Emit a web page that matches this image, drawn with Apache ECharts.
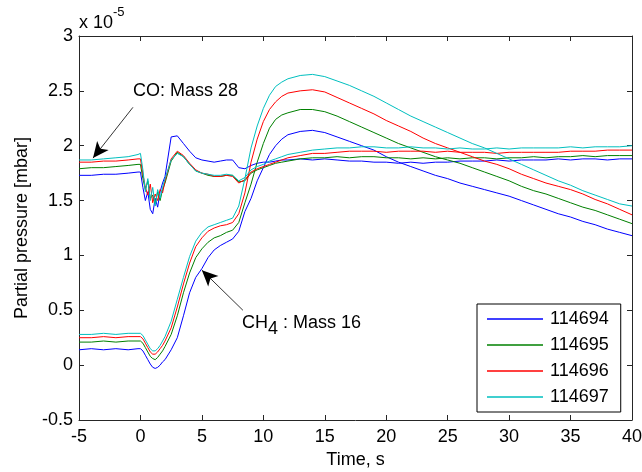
<!DOCTYPE html>
<html>
<head>
<meta charset="utf-8">
<title>Partial pressure</title>
<script src="https://cdn.jsdelivr.net/npm/echarts@6/dist/echarts.min.js"></script>
<style>
  html, body { margin: 0; padding: 0; background: #fff; }
  #chart { width: 642px; height: 472px; }
</style>
</head>
<body>
<div id="chart"></div>
<script>
// time axis, seconds
var t = [-5, -4, -3, -2, -1, -0.2,
    0, 0.2, 0.4, 0.6, 0.8, 1.0, 1.2, 1.4, 1.6, 1.8, 2.0,
    2.5, 3, 3.5, 4, 4.5, 5, 5.5, 6, 6.5, 7, 7.5, 8, 8.5, 9, 9.5, 10, 10.5, 11, 11.5, 12,
    13, 14, 15, 16, 17, 18, 19, 20, 21, 22, 23, 24, 25, 26, 27, 28, 29, 30,
    31, 32, 33, 34, 35, 36, 37, 38, 39, 40];

var runs = ['114694', '114695', '114696', '114697'];
var colors = ['#0000ff', '#008000', '#ff0000', '#00bfbf'];

// CO: Mass 28  (x 1e-5 mbar)
var co114694 = [1.73, 1.73, 1.74, 1.74, 1.75, 1.76,
    1.76, 1.62, 1.50, 1.58, 1.42, 1.38, 1.52, 1.44, 1.58, 1.66, 1.72,
    2.08, 2.09, 2.02, 1.95, 1.89, 1.87, 1.86, 1.85, 1.86, 1.87, 1.87, 1.80, 1.79, 1.82, 1.84, 1.85, 1.85, 1.86, 1.87, 1.87,
    1.88, 1.87, 1.88, 1.87, 1.86, 1.86, 1.85, 1.85, 1.84, 1.85, 1.84, 1.85, 1.85, 1.86, 1.86, 1.86, 1.87, 1.86,
    1.87, 1.87, 1.87, 1.88, 1.87, 1.88, 1.88, 1.87, 1.88, 1.88];
var co114695 = [1.79, 1.80, 1.80, 1.81, 1.82, 1.83,
    1.83, 1.70, 1.60, 1.68, 1.52, 1.55, 1.47, 1.58, 1.50, 1.60, 1.66,
    1.86, 1.94, 1.90, 1.83, 1.77, 1.75, 1.73, 1.72, 1.72, 1.73, 1.73, 1.67, 1.68, 1.75, 1.78, 1.80, 1.82, 1.84, 1.85, 1.86,
    1.88, 1.89, 1.89, 1.90, 1.89, 1.90, 1.90, 1.89, 1.89, 1.88, 1.89, 1.88, 1.89, 1.88, 1.89, 1.89, 1.88, 1.89,
    1.89, 1.90, 1.89, 1.90, 1.90, 1.91, 1.90, 1.91, 1.91, 1.91];
var co114696 = [1.85, 1.85, 1.86, 1.86, 1.87, 1.88,
    1.88, 1.74, 1.62, 1.55, 1.65, 1.48, 1.56, 1.50, 1.60, 1.57, 1.68,
    1.88, 1.95, 1.91, 1.84, 1.78, 1.75, 1.74, 1.72, 1.72, 1.73, 1.72, 1.66, 1.69, 1.76, 1.79, 1.81, 1.83, 1.85, 1.87, 1.89,
    1.91, 1.93, 1.93, 1.94, 1.95, 1.95, 1.95, 1.94, 1.95, 1.95, 1.95, 1.94, 1.95, 1.94, 1.94, 1.94, 1.93, 1.94,
    1.94, 1.94, 1.94, 1.94, 1.95, 1.95, 1.95, 1.96, 1.96, 1.96];
var co114697 = [1.87, 1.87, 1.88, 1.89, 1.90, 1.92,
    1.93, 1.78, 1.58, 1.70, 1.50, 1.62, 1.45, 1.60, 1.52, 1.62, 1.70,
    1.87, 1.93, 1.90, 1.83, 1.77, 1.75, 1.74, 1.73, 1.73, 1.74, 1.73, 1.68, 1.71, 1.78, 1.81, 1.83, 1.86, 1.88, 1.90, 1.92,
    1.94, 1.96, 1.97, 1.98, 1.98, 1.99, 1.99, 1.98, 1.98, 1.99, 1.98, 1.98, 1.97, 1.98, 1.97, 1.97, 1.98, 1.97,
    1.98, 1.98, 1.98, 1.98, 1.99, 1.98, 1.99, 1.99, 1.99, 2.00];

// CH4: Mass 16
var ch4114694 = [0.14, 0.15, 0.14, 0.15, 0.14, 0.15,
    0.15, 0.13, 0.09, 0.05, 0.01, -0.02, -0.03, -0.02, 0.00, 0.03, 0.05,
    0.14, 0.25, 0.45, 0.66, 0.80, 0.88, 0.98, 1.05, 1.09, 1.12, 1.15, 1.22, 1.40, 1.52, 1.68, 1.80, 1.92, 2.00, 2.06, 2.10,
    2.13, 2.14, 2.12, 2.08, 2.04, 2.00, 1.96, 1.90, 1.85, 1.81, 1.77, 1.73, 1.70, 1.66, 1.63, 1.60, 1.57, 1.54,
    1.50, 1.46, 1.42, 1.38, 1.35, 1.31, 1.28, 1.24, 1.21, 1.18];
var ch4114695 = [0.21, 0.21, 0.22, 0.21, 0.22, 0.22,
    0.22, 0.20, 0.16, 0.12, 0.08, 0.06, 0.05, 0.07, 0.10, 0.13, 0.17,
    0.28, 0.45, 0.66, 0.84, 0.98, 1.06, 1.12, 1.16, 1.18, 1.21, 1.23, 1.30, 1.48, 1.65, 1.85, 2.02, 2.16, 2.24, 2.28, 2.30,
    2.33, 2.33, 2.31, 2.27, 2.22, 2.17, 2.12, 2.07, 2.02, 1.98, 1.94, 1.90, 1.87, 1.84, 1.80, 1.76, 1.72, 1.68,
    1.63, 1.59, 1.56, 1.52, 1.48, 1.44, 1.41, 1.37, 1.33, 1.29];
var ch4114696 = [0.25, 0.25, 0.26, 0.25, 0.26, 0.26,
    0.26, 0.24, 0.20, 0.16, 0.12, 0.10, 0.10, 0.12, 0.15, 0.18, 0.22,
    0.34, 0.53, 0.74, 0.93, 1.08, 1.16, 1.22, 1.25, 1.27, 1.28, 1.30, 1.38, 1.57, 1.85, 2.06, 2.22, 2.33, 2.40, 2.45, 2.48,
    2.50, 2.51, 2.49, 2.44, 2.39, 2.34, 2.29, 2.23, 2.18, 2.13, 2.07, 2.02, 1.98, 1.94, 1.90, 1.86, 1.83, 1.79,
    1.74, 1.70, 1.66, 1.63, 1.60, 1.56, 1.51, 1.47, 1.42, 1.37];
var ch4114697 = [0.28, 0.28, 0.29, 0.28, 0.29, 0.29,
    0.29, 0.27, 0.23, 0.19, 0.15, 0.13, 0.13, 0.15, 0.18, 0.22, 0.26,
    0.40, 0.60, 0.80, 0.99, 1.13, 1.21, 1.26, 1.28, 1.30, 1.32, 1.34, 1.45, 1.70, 1.98, 2.18, 2.34, 2.46, 2.54, 2.58, 2.61,
    2.64, 2.65, 2.63, 2.59, 2.55, 2.50, 2.45, 2.39, 2.33, 2.27, 2.22, 2.17, 2.12, 2.07, 2.02, 1.98, 1.93, 1.88,
    1.83, 1.78, 1.73, 1.68, 1.64, 1.59, 1.55, 1.51, 1.47, 1.45];

var coSets = [co114694, co114695, co114696, co114697];
var ch4Sets = [ch4114694, ch4114695, ch4114696, ch4114697];

var myChart = echarts.init(document.getElementById('chart'));

var font = 'Liberation Sans, Arial, Helvetica, sans-serif';
var axisCol = '#262626';

var pairs = function (vals) {
    return t.map(function (x, i) { return [x, vals[i]]; });
};

var series = [];
for (var i = 0; i < runs.length; i++) {
    [coSets[i], ch4Sets[i]].forEach(function (vals) {
        series.push({
            name: runs[i],
            type: 'line',
            symbol: 'none',
            legendIcon: 'rect',
            animation: false,
            lineStyle: {color: colors[i], width: 1},
            itemStyle: {color: colors[i]},
            emphasis: {disabled: true},
            data: pairs(vals)
        });
    });
}

// arrows for the two annotations
series.push({
    name: 'arrows',
    type: 'line',
    data: [],
    silent: true,
    markLine: {
        silent: true,
        animation: false,
        symbol: ['none', 'arrow'],
        symbolSize: [11, 16],
        label: {show: false},
        lineStyle: {color: '#000', width: 0.8, type: 'solid'},
        emphasis: {disabled: true},
        data: [
            [{coord: [-0.61, 2.35]}, {coord: [-3.86, 1.887]}],
            [{coord: [8.34, 0.50]}, {coord: [5.0, 0.866]}]
        ]
    }
});

var tickStyle = {show: true, inside: true, length: 5, lineStyle: {color: axisCol}};
var lineStyle = {show: true, onZero: false, lineStyle: {color: axisCol, width: 1}};

var option = {
    backgroundColor: '#fff',
    animation: false,
    textStyle: {fontFamily: font},
    grid: {left: 79, top: 36, right: 10, bottom: 52, containLabel: false, outerBoundsMode: 'none'},
    legend: {
        data: runs,
        orient: 'vertical',
        left: 477,
        top: 304,
        backgroundColor: '#fff',
        borderColor: '#000',
        borderWidth: 1,
        borderRadius: 0,
        padding: [6, 12, 6, 10],
        icon: 'rect',
        itemWidth: 56,
        itemHeight: 1.5,
        itemGap: 8,
        selectedMode: false,
        textStyle: {fontSize: 18, lineHeight: 18, color: '#000', fontFamily: font, padding: [0, 0, 0, 2]}
    },
    xAxis: [{
        type: 'value',
        min: -5,
        max: 40,
        interval: 5,
        name: 'Time, s',
        nameLocation: 'middle',
        nameGap: 31,
        nameTextStyle: {fontSize: 18, color: '#000'},
        axisLine: lineStyle,
        axisTick: tickStyle,
        axisLabel: {fontSize: 18, color: '#000', margin: 8},
        splitLine: {show: false}
    }, {
        type: 'value',
        position: 'top',
        min: -5,
        max: 40,
        interval: 5,
        axisLine: lineStyle,
        axisTick: tickStyle,
        axisLabel: {show: false},
        splitLine: {show: false}
    }],
    yAxis: [{
        type: 'value',
        min: -0.5,
        max: 3,
        interval: 0.5,
        name: 'Partial pressure [mbar]',
        nameLocation: 'middle',
        nameGap: 48,
        nameTextStyle: {fontSize: 18, color: '#000'},
        axisLine: lineStyle,
        axisTick: tickStyle,
        axisLabel: {fontSize: 18, color: '#000', margin: 6},
        splitLine: {show: false}
    }, {
        type: 'value',
        position: 'right',
        min: -0.5,
        max: 3,
        interval: 0.5,
        axisLine: lineStyle,
        axisTick: tickStyle,
        axisLabel: {show: false},
        splitLine: {show: false}
    }],
    graphic: [{
        type: 'text',
        left: 79,
        top: 6,
        style: {
            text: '{a|x 10}{b|-5}',
            fontFamily: font,
            rich: {
                a: {fontSize: 18, fill: '#000', padding: [8, 0, 0, 0]},
                b: {fontSize: 13, fill: '#000', verticalAlign: 'top'}
            }
        }
    }, {
        type: 'text',
        left: 133,
        top: 82,
        style: {text: 'CO: Mass 28', fontFamily: font, fontSize: 18, fill: '#000'}
    }, {
        type: 'text',
        left: 242,
        top: 314,
        style: {
            text: 'CH{s|4} : Mass 16',
            fontFamily: font,
            fontSize: 18,
            fill: '#000',
            rich: {s: {fontSize: 18, fill: '#000', padding: [12, 0, 0, 0]}}
        }
    }],
    series: series
};

myChart.setOption(option);
</script>
</body>
</html>
